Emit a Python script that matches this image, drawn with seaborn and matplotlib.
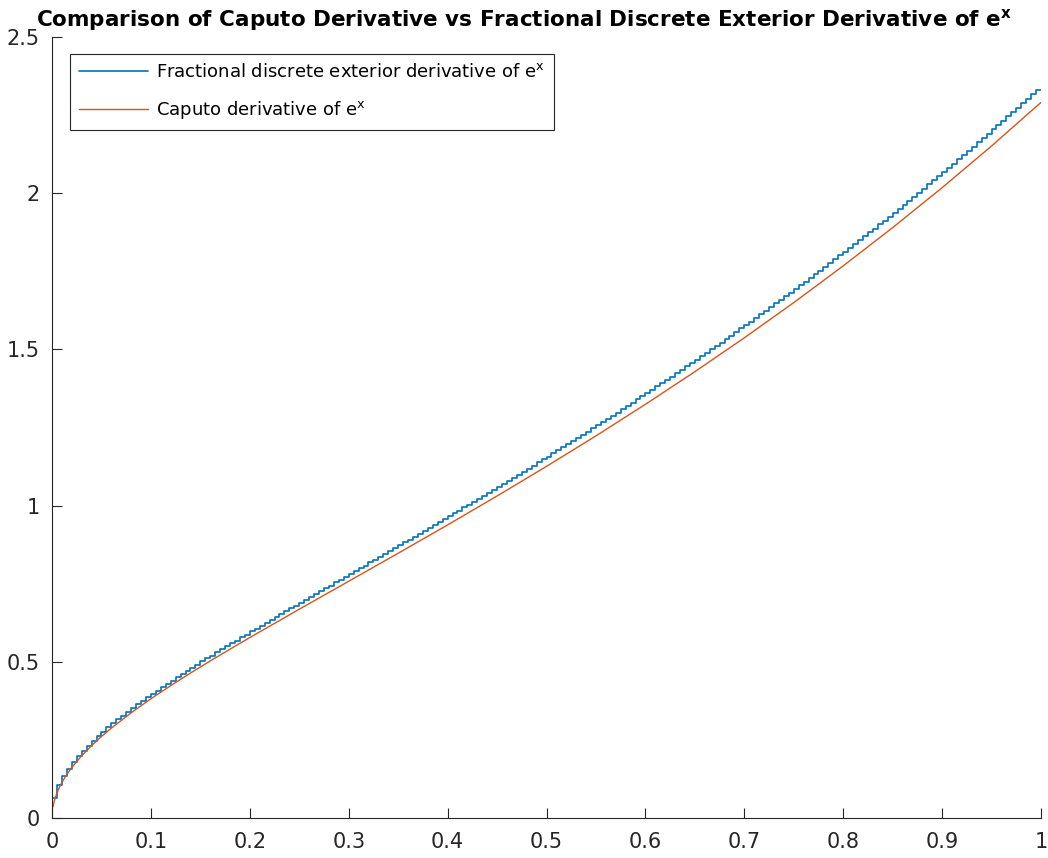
import numpy as np
import pandas as pd
import matplotlib
matplotlib.use("Agg")
import matplotlib.pyplot as plt
import seaborn as sns

# Caputo derivative of e^x (smooth curve)
caputo_x = [0.001, 0.0025, 0.005, 0.0075, 0.01, 0.015, 0.02, 0.03, 0.04, 0.05, 0.06, 0.08,
            0.1, 0.12, 0.14, 0.16, 0.18, 0.2, 0.25, 0.3, 0.35, 0.4, 0.45, 0.5, 0.55, 0.6,
            0.65, 0.7, 0.75, 0.8, 0.85, 0.9, 0.95, 1.0]
caputo_y = [0.0357, 0.0565, 0.0801, 0.0982, 0.1136, 0.1396, 0.1617, 0.1994, 0.2318,
            0.2609, 0.2877, 0.3367, 0.3816, 0.4237, 0.4639, 0.5027, 0.5405, 0.5776,
            0.6683, 0.7578, 0.8475, 0.9382, 1.0307, 1.1256, 1.2232, 1.3241, 1.4286,
            1.5370, 1.6498, 1.7673, 1.8898, 2.0176, 2.1511, 2.2907]

# Fractional discrete exterior derivative: one value per cell (200 cells on [0, 1])
fdec_y = [
    0.063, 0.105, 0.134, 0.158, 0.179, 0.198, 0.215, 0.232, 0.247, 0.262,
    0.276, 0.290, 0.303, 0.316, 0.328, 0.340, 0.352, 0.364, 0.375, 0.386,
    0.397, 0.408, 0.419, 0.429, 0.440, 0.450, 0.461, 0.471, 0.481, 0.491,
    0.501, 0.511, 0.520, 0.530, 0.540, 0.549, 0.559, 0.568, 0.578, 0.587,
    0.597, 0.606, 0.615, 0.625, 0.634, 0.643, 0.653, 0.662, 0.671, 0.680,
    0.689, 0.699, 0.708, 0.717, 0.726, 0.735, 0.744, 0.754, 0.763, 0.772,
    0.781, 0.790, 0.799, 0.808, 0.818, 0.827, 0.836, 0.845, 0.854, 0.864,
    0.873, 0.882, 0.891, 0.901, 0.910, 0.919, 0.928, 0.938, 0.947, 0.956,
    0.966, 0.975, 0.984, 0.994, 1.003, 1.013, 1.022, 1.032, 1.041, 1.051,
    1.060, 1.070, 1.080, 1.089, 1.099, 1.109, 1.118, 1.128, 1.138, 1.148,
    1.157, 1.167, 1.177, 1.187, 1.197, 1.207, 1.217, 1.227, 1.237, 1.247,
    1.257, 1.268, 1.278, 1.288, 1.298, 1.309, 1.319, 1.329, 1.340, 1.350,
    1.361, 1.371, 1.382, 1.392, 1.403, 1.413, 1.424, 1.435, 1.446, 1.456,
    1.467, 1.478, 1.489, 1.500, 1.511, 1.522, 1.533, 1.544, 1.556, 1.567,
    1.578, 1.589, 1.601, 1.612, 1.624, 1.635, 1.647, 1.658, 1.670, 1.681,
    1.693, 1.705, 1.717, 1.729, 1.741, 1.752, 1.764, 1.777, 1.789, 1.801,
    1.813, 1.825, 1.838, 1.850, 1.862, 1.875, 1.887, 1.900, 1.912, 1.925,
    1.938, 1.951, 1.963, 1.976, 1.989, 2.002, 2.015, 2.028, 2.042, 2.055,
    2.068, 2.081, 2.095, 2.108, 2.122, 2.135, 2.149, 2.163, 2.176, 2.190,
    2.204, 2.218, 2.232, 2.246, 2.260, 2.274, 2.288, 2.303, 2.317, 2.331,
]

x_ticks = [0, 0.1, 0.2, 0.3, 0.4, 0.5, 0.6, 0.7, 0.8, 0.9, 1]
x_tick_labels = ["0", "0.1", "0.2", "0.3", "0.4", "0.5", "0.6", "0.7", "0.8", "0.9", "1"]
y_ticks = [0, 0.5, 1, 1.5, 2, 2.5]
y_tick_labels = ["0", "0.5", "1", "1.5", "2", "2.5"]

sns.set_style("white")
plt.rcParams["font.family"] = ["DejaVu Sans"]
plt.rcParams["mathtext.fontset"] = "dejavusans"
plt.rcParams["mathtext.default"] = "regular"

# step edges: cell boundaries of the uniform grid
edges = np.linspace(0, 1, len(fdec_y) + 1)
df_fdec = pd.DataFrame({"x": edges, "y": fdec_y + [fdec_y[-1]]})
df_cap = pd.DataFrame({"x": caputo_x, "y": caputo_y})

fig = plt.figure(figsize=(10.48, 8.58), dpi=100)
ax = fig.add_axes([52 / 1048, 40 / 858, 989 / 1048, 781 / 858])

sns.lineplot(data=df_fdec, x="x", y="y", ax=ax, color="#0072BD", linewidth=1.2,
             drawstyle="steps-post", estimator=None,
             label="Fractional discrete exterior derivative of e$^{x}$")
sns.lineplot(data=df_cap, x="x", y="y", ax=ax, color="#D95319", linewidth=1.0,
             estimator=None, label="Caputo derivative of e$^{x}$")

ax.set_xlim(0, 1)
ax.set_ylim(0, 2.5)
ax.set_xticks(x_ticks)
ax.set_xticklabels(x_tick_labels)
ax.set_yticks(y_ticks)
ax.set_yticklabels(y_tick_labels)
ax.set_xlabel("")
ax.set_ylabel("")
ax.tick_params(bottom=True, left=True, direction="in", length=7, width=0.8,
               colors="#262626", labelsize=15, labelcolor="#262626")
ax.tick_params(axis="x", pad=10)
ax.tick_params(axis="y", pad=9)
for side in ["top", "right"]:
    ax.spines[side].set_visible(False)
for side in ["left", "bottom"]:
    ax.spines[side].set_color("#262626")
    ax.spines[side].set_linewidth(0.8)

leg = ax.legend(loc="upper left", bbox_to_anchor=(70 / 1048, 1 - 54 / 858),
                bbox_transform=fig.transFigure, borderaxespad=0, fontsize=13,
                frameon=True, fancybox=False, framealpha=1, edgecolor="#262626",
                handlelength=3.8, handletextpad=0.45, borderpad=0.5,
                labelspacing=1.0)
leg.get_frame().set_linewidth(0.8)
for txt in leg.get_texts():
    txt.set_color("black")

fig.text(0.5, 1 - 26 / 858,
         r"Comparison of Caputo Derivative vs Fractional Discrete Exterior Derivative of e$^{\mathbf{x}}$",
         ha="center", va="baseline", fontsize=15.5, fontweight="bold", color="black")

fig.savefig("out.png", dpi=100)
